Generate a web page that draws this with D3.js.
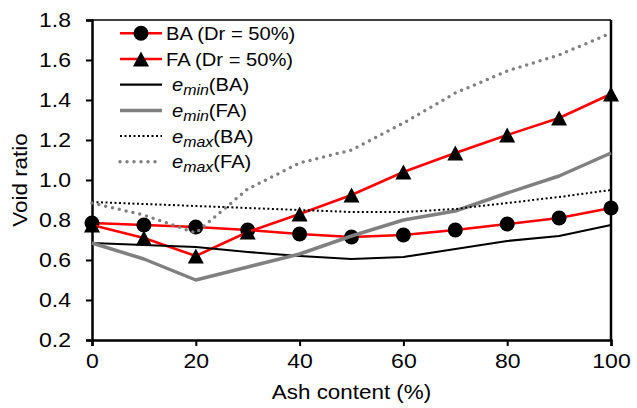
<!DOCTYPE html>
<html>
<head>
<meta charset="utf-8">
<script src="https://cdn.jsdelivr.net/npm/d3@7"></script>
<style>
  body { margin: 0; background: #fff; }
  svg { display: block; font-family: "Liberation Sans", Arial, sans-serif; }
</style>
</head>
<body>
<svg id="chart" width="637" height="408"></svg>
<script>
// values
const ashContent = [0, 10, 20, 30, 40, 50, 60, 70, 80, 90, 100];
const baDr50 = [0.785, 0.775, 0.765, 0.75, 0.73, 0.715, 0.725, 0.75, 0.78, 0.81, 0.86];
const faDr50 = [0.775, 0.71, 0.62, 0.74, 0.83, 0.925, 1.04, 1.135, 1.225, 1.31, 1.43];
const eminBA = [0.685, 0.675, 0.665, 0.64, 0.62, 0.605, 0.615, 0.655, 0.695, 0.72, 0.775];
const eminFA = [0.685, 0.605, 0.50, 0.565, 0.63, 0.72, 0.80, 0.845, 0.935, 1.02, 1.135];
const emaxBA = [0.89, 0.88, 0.87, 0.86, 0.85, 0.84, 0.84, 0.855, 0.885, 0.915, 0.95];
const emaxFA = [0.885, 0.825, 0.735, 0.955, 1.085, 1.15, 1.285, 1.435, 1.545, 1.625, 1.735];
const xTicks = [0, 20, 40, 60, 80, 100];
const yTicks = [0.2, 0.4, 0.6, 0.8, 1.0, 1.2, 1.4, 1.6, 1.8];

const svg = d3.select("#chart");
const margin = {left: 92, right: 26, top: 20, bottom: 68};
const W = 637, H = 408;

const x = d3.scaleLinear().domain([0, 100]).range([margin.left, W - margin.right]);
const y = d3.scaleLinear().domain([0.2, 1.8]).range([H - margin.bottom, margin.top]);

// the source figure's text is a bit wider than plain Arial
function widen(sel, k) {
  sel.each(function() {
    const len = this.getComputedTextLength();
    d3.select(this).attr("textLength", len * k).attr("lengthAdjust", "spacingAndGlyphs");
  });
}

// frame (top + right)
svg.append("line")
  .attr("x1", x(0)).attr("x2", x(100)).attr("y1", y(1.8)).attr("y2", y(1.8))
  .attr("stroke", "#000").attr("stroke-width", 1.5);
svg.append("line")
  .attr("x1", x(100)).attr("x2", x(100)).attr("y1", y(1.8)).attr("y2", y(0.2))
  .attr("stroke", "#000").attr("stroke-width", 2.5);

// axes
const xAxis = svg.append("g")
  .attr("transform", `translate(0,${y(0.2)})`)
  .call(d3.axisBottom(x).tickValues(xTicks).tickFormat(d3.format("d")).tickSize(6).tickPadding(8));
const yAxis = svg.append("g")
  .attr("transform", `translate(${x(0)},0)`)
  .call(d3.axisLeft(y).tickValues(yTicks).tickFormat(d3.format(".1f")).tickSize(6).tickPadding(15));

[xAxis, yAxis].forEach(g => {
  g.select(".domain").attr("stroke", "#000").attr("stroke-width", 2.5);
  g.selectAll(".tick line").attr("stroke", "#000").attr("stroke-width", 2);
  g.selectAll(".tick text").attr("font-size", 20).attr("fill", "#000")
    .attr("font-family", "Liberation Sans, Arial, sans-serif");
  widen(g.selectAll(".tick text"), 1.15);
});

// axis titles
const xTitle = svg.append("text")
  .attr("x", (x(0) + x(100)) / 2).attr("y", 399)
  .attr("text-anchor", "middle").attr("font-size", 20)
  .text("Ash content (%)");
const yTitle = svg.append("text")
  .attr("transform", `translate(27,${(y(0.2) + y(1.8)) / 2}) rotate(-90)`)
  .attr("text-anchor", "middle").attr("font-size", 20)
  .text("Void ratio");
widen(xTitle, 1.12);
widen(yTitle, 1.12);

const line = d3.line().x((d, i) => x(ashContent[i])).y(d => y(d));

// series, drawn in legend order
const series = [
  {values: baDr50, stroke: "#ff0000", width: 2.5, dash: null, cap: "butt", marker: "circle"},
  {values: faDr50, stroke: "#ff0000", width: 2.5, dash: null, cap: "butt", marker: "triangle"},
  {values: eminBA, stroke: "#000000", width: 2.2, dash: null, cap: "butt"},
  {values: eminFA, stroke: "#808080", width: 3.5, dash: null, cap: "butt"},
  {values: emaxBA, stroke: "#000000", width: 2, dash: "2,2.5", cap: "butt"},
  {values: emaxFA, stroke: "#808080", width: 3.5, dash: "0,7", cap: "round"}
];

const triPath = "M0,-7.5L8,7.5L-8,7.5Z";

series.forEach(s => {
  svg.append("path")
    .datum(s.values)
    .attr("d", line)
    .attr("fill", "none")
    .attr("stroke", s.stroke)
    .attr("stroke-width", s.width)
    .attr("stroke-dasharray", s.dash)
    .attr("stroke-linecap", s.cap)
    .attr("stroke-linejoin", "round");
  if (s.marker === "circle") {
    svg.append("g").selectAll("circle")
      .data(s.values).join("circle")
      .attr("cx", (d, i) => x(ashContent[i]))
      .attr("cy", d => y(d))
      .attr("r", 7.5).attr("fill", "#000");
  } else if (s.marker === "triangle") {
    svg.append("g").selectAll("path")
      .data(s.values).join("path")
      .attr("d", triPath)
      .attr("transform", (d, i) => `translate(${x(ashContent[i])},${y(d)})`)
      .attr("fill", "#000");
  }
});

// legend
const legendItems = [
  {label: "BA (Dr = 50%)", sub: null},
  {label: "FA (Dr = 50%)", sub: null},
  {label: "(BA)", sub: "min"},
  {label: "(FA)", sub: "min"},
  {label: "(BA)", sub: "max"},
  {label: "(FA)", sub: "max"}
];
const legend = svg.append("g");
legendItems.forEach((it, i) => {
  const s = series[i];
  const cy = 33.3 + i * 25.7;
  const g = legend.append("g").attr("transform", `translate(0,${cy})`);
  g.append("line")
    .attr("x1", 120).attr("x2", 162).attr("y1", 0).attr("y2", 0)
    .attr("stroke", s.stroke).attr("stroke-width", s.width)
    .attr("stroke-dasharray", s.dash).attr("stroke-linecap", s.cap);
  if (s.marker === "circle") {
    g.append("circle").attr("cx", 141).attr("cy", 0).attr("r", 7.5).attr("fill", "#000");
  } else if (s.marker === "triangle") {
    g.append("path").attr("d", triPath).attr("transform", "translate(141,0)").attr("fill", "#000");
  }
  const t = g.append("text").attr("y", 6.5).attr("font-size", 19);
  if (it.sub) {
    t.attr("x", 172);
    t.append("tspan").attr("font-style", "italic").text("e");
    t.append("tspan").attr("font-style", "italic").attr("font-size", 15).attr("dy", 4).text(it.sub);
    t.append("tspan").attr("dy", -4).text(it.label);
    widen(t, 1.06);
  } else {
    t.attr("x", 166).text(it.label);
    widen(t, 1.06);
  }
});
</script>
</body>
</html>
